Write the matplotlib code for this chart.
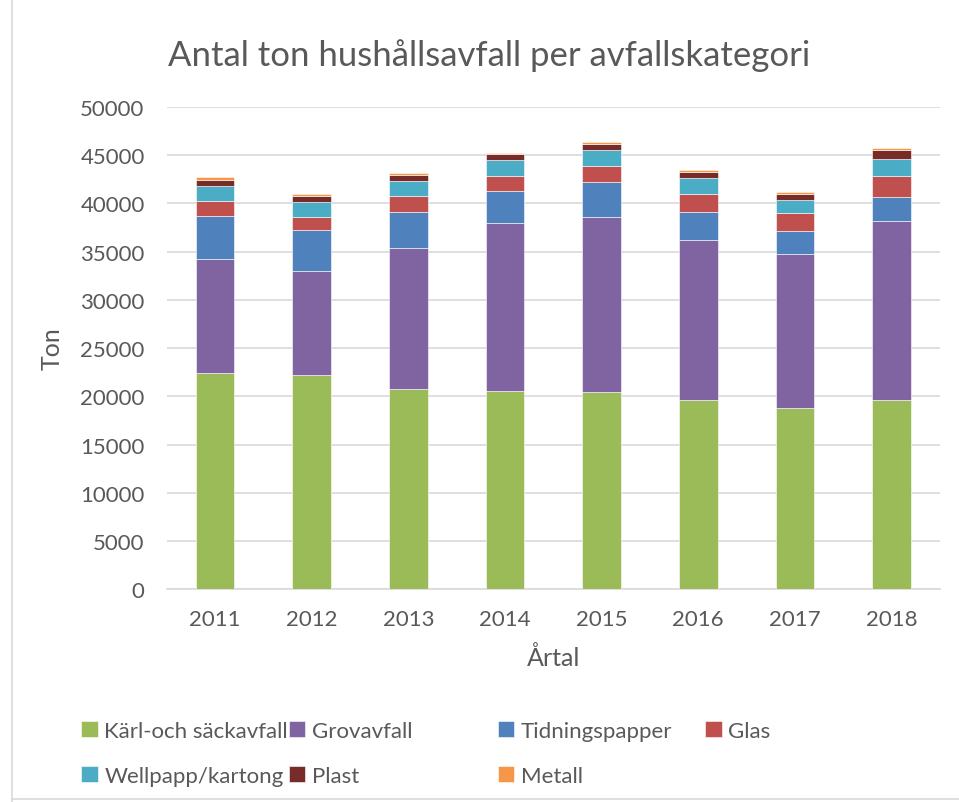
import matplotlib
matplotlib.use('Agg')
import matplotlib.pyplot as plt
import numpy as np
from matplotlib.lines import Line2D

years = ['2011', '2012', '2013', '2014', '2015', '2016', '2017', '2018']
categories = ['Kärl-och säckavfall', 'Grovavfall', 'Tidningspapper', 'Glas',
              'Wellpapp/kartong', 'Plast', 'Metall']

karl = [22410, 22200, 20750, 20510, 20470, 19610, 18780, 19610]
grov = [11820, 10820, 14620, 17420, 18080, 16560, 15940, 18560]
tidning = [4430, 4190, 3740, 3320, 3670, 2940, 2390, 2530]
glas = [1620, 1410, 1620, 1560, 1630, 1900, 1930, 2140]
wellpapp = [1490, 1490, 1560, 1690, 1690, 1620, 1310, 1730]
plast = [690, 620, 660, 590, 650, 660, 630, 970]
metall = [320, 245, 200, 170, 180, 210, 200, 240]

colors = ['#9BBB59', '#8064A2', '#4F81BD', '#C0504D', '#4BACC6', '#772C2A', '#F79646']
text_col = '#595959'

plt.rcParams['font.family'] = ['Lato', 'DejaVu Sans']

fig = plt.figure(figsize=(9.59, 8.03), dpi=100)
ax = fig.add_axes([0.174, 0.265, 0.806, 0.6005])

series = [karl, grov, tidning, glas, wellpapp, plast, metall]
x = np.arange(len(years))
bottom = np.zeros(len(years))
bars = []
for vals, col, name in zip(series, colors, categories):
    b = ax.bar(x, vals, 0.4, bottom=bottom, color=col, label=name,
               edgecolor='white', linewidth=0.4, zorder=3)
    bars.append(b)
    bottom += np.array(vals)

ax.set_ylim(0, 50000)
ax.set_xlim(-0.5, len(years) - 0.5)
ax.set_yticks(range(0, 50001, 5000))
ax.set_xticks(x)
ax.set_xticklabels(years)
ax.grid(axis='y', color='#d9d9d9', linewidth=1.2, zorder=0)
for s in ['top', 'right', 'left']:
    ax.spines[s].set_visible(False)
ax.spines['bottom'].set_color('#d9d9d9')
ax.spines['bottom'].set_linewidth(1.2)
ax.tick_params(axis='both', length=0, labelsize=16, colors=text_col)
ax.tick_params(axis='x', pad=14)
ax.tick_params(axis='y', pad=16)

ax.set_xlabel('Årtal', fontsize=18, color=text_col, labelpad=12)
ax.set_ylabel('Ton', fontsize=18, color=text_col, labelpad=12)
fig.text(0.51, 0.931, 'Antal ton hushållsavfall per avfallskategori',
         ha='center', va='center', fontsize=25, color=text_col)

# legend entries placed on an even grid like the original
col_x = [0.0845, 0.301, 0.519, 0.735]
row_y = [0.089, 0.033]
positions = [(0, 0), (1, 0), (2, 0), (3, 0), (0, 1), (1, 1), (2, 1)]
for b, name, (c, r) in zip(bars, categories, positions):
    leg = fig.legend([b], [name], loc='center left',
                     bbox_to_anchor=(col_x[c], row_y[r]), frameon=False,
                     fontsize=16, handlelength=0.75, handleheight=0.75,
                     handletextpad=0.3, borderpad=0, borderaxespad=0)
    for t in leg.get_texts():
        t.set_color(text_col)

fig.add_artist(Line2D([0.012, 0.012], [0.0, 1.0], color='#d9d9d9', linewidth=1.2))
fig.add_artist(Line2D([0.012, 1.0], [0.004, 0.004], color='#d9d9d9', linewidth=1.2))

fig.savefig('out.png', dpi=100)
